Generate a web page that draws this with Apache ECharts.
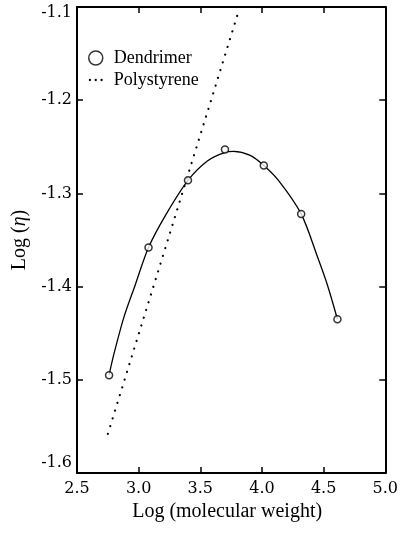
<!DOCTYPE html>
<html>
<head>
<meta charset="utf-8">
<script src="https://cdn.jsdelivr.net/npm/echarts@6/dist/echarts.min.js"></script>
<style>html,body{margin:0;padding:0;background:#fff}#c{width:401px;height:534px}</style>
</head>
<body>
<div id="c"></div>
<script>
// Dendrimer measured points [log M, log eta]
const dendrimerX = [2.76, 3.08, 3.40, 3.70, 4.015, 4.318, 4.612];
const dendrimerY = [-1.495, -1.358, -1.286, -1.253, -1.270, -1.322, -1.435];
// Smooth fitted curve through dendrimer data
const curveX = [2.76, 2.80, 2.88, 2.97, 3.08, 3.22, 3.40, 3.56, 3.70, 3.77, 3.90, 4.015, 4.14, 4.318, 4.45, 4.53, 4.612];
const curveY = [-1.495, -1.472, -1.433, -1.399, -1.358, -1.323, -1.286, -1.265, -1.256, -1.255, -1.259, -1.270, -1.287, -1.322, -1.368, -1.398, -1.435];
// Polystyrene line endpoints
const psX = [2.75, 3.80];
const psY = [-1.558, -1.109];
// Axes
const xTicks = [2.5, 3.0, 3.5, 4.0, 4.5, 5.0];
const yTicks = [-1.6, -1.5, -1.4, -1.3, -1.2, -1.1];

const zip = (a, b) => a.map((v, i) => [v, b[i]]);
const FONT = 'Liberation Serif';
const TFONT = 'DejaVu Serif';

const chart = echarts.init(document.getElementById('c'), null, {renderer: 'canvas'});
const axisCommon = {
  type: 'value',
  axisLine: {show: true, onZero: false, lineStyle: {color: '#000', width: 2}},
  axisTick: {show: true, inside: true, length: 6, lineStyle: {color: '#000', width: 1.5}},
  splitLine: {show: false}
};
const tickText = {fontFamily: TFONT, fontSize: 16, color: '#000'};
chart.setOption({
  animation: false,
  backgroundColor: '#fff',
  grid: {left: 77, right: 12, top: 7, bottom: 61},
  legend: {
    orient: 'vertical',
    left: 83, top: 44,
    itemWidth: 14, itemHeight: 14, itemGap: 4,
    textStyle: {fontFamily: FONT, fontSize: 18, color: '#000', padding: [0, 0, 0, 6]},
    data: [
      {name: 'Dendrimer', icon: 'circle', itemStyle: {color: '#fff', borderColor: '#000', borderWidth: 1.5}},
      {name: 'Polystyrene', icon: 'path://M0,1a1,1 0 1,0 2,0a1,1 0 1,0 -2,0M5,1a1,1 0 1,0 2,0a1,1 0 1,0 -2,0M10,1a1,1 0 1,0 2,0a1,1 0 1,0 -2,0', itemStyle: {color: '#000'}}
    ]
  },
  xAxis: [
    Object.assign({}, axisCommon, {
      min: 2.5, max: 5.0, interval: 0.5, position: 'bottom',
      axisLabel: Object.assign({}, tickText, {margin: 8,
        formatter: v => xTicks.includes(+v.toFixed(1)) ? v.toFixed(1) : ''}),
      name: 'Log (molecular weight)', nameLocation: 'middle', nameGap: 27,
      nameTextStyle: {color: '#000', fontFamily: FONT, fontSize: 20, padding: [0, 8, 0, 0]}
    }),
    Object.assign({}, axisCommon, {
      min: 2.5, max: 5.0, interval: 0.5, position: 'top', axisLabel: {show: false}
    })
  ],
  yAxis: [
    Object.assign({}, axisCommon, {
      min: -1.6, max: -1.1, interval: 0.1, position: 'left',
      axisLabel: Object.assign({}, tickText, {margin: 5,
        formatter: v => {
          const r = +v.toFixed(1);
          if (!yTicks.includes(r)) return '';
          const s = r.toFixed(1);
          if (r === -1.1) return '{dn|' + s + '}';
          if (r === -1.6) return '{up|' + s + '}';
          return '{n|' + s + '}';
        },
        rich: {
          n: Object.assign({}, tickText),
          dn: Object.assign({}, tickText, {padding: [11, 0, 0, 0]}),
          up: Object.assign({}, tickText, {padding: [0, 0, 20, 0]})
        }
      }),
      name: 'Log ({i|η})', nameLocation: 'middle', nameGap: 47, nameRotate: 90,
      nameTextStyle: {color: '#000', fontFamily: FONT, fontSize: 20,
        rich: {i: {fontFamily: FONT, fontSize: 20, fontStyle: 'italic', color: '#000'}}}
    }),
    Object.assign({}, axisCommon, {
      min: -1.6, max: -1.1, interval: 0.1, position: 'right', axisLabel: {show: false}
    })
  ],
  series: [
    {
      name: 'Fit', type: 'line', data: zip(curveX, curveY), smooth: 0.3,
      showSymbol: false, symbol: 'none', lineStyle: {color: '#000', width: 1.3}, z: 2
    },
    {
      name: 'Polystyrene', type: 'line', data: zip(psX, psY), showSymbol: false, symbol: 'none',
      lineStyle: {color: '#000', width: 2.2, type: [0.1, 8], cap: 'round'}, itemStyle: {color: '#000'}, z: 3
    },
    {
      name: 'Dendrimer', type: 'scatter', data: zip(dendrimerX, dendrimerY), symbol: 'circle', symbolSize: 7,
      itemStyle: {color: '#fff', borderColor: '#000', borderWidth: 1.5}, z: 4
    }
  ]
});
</script>
</body>
</html>
